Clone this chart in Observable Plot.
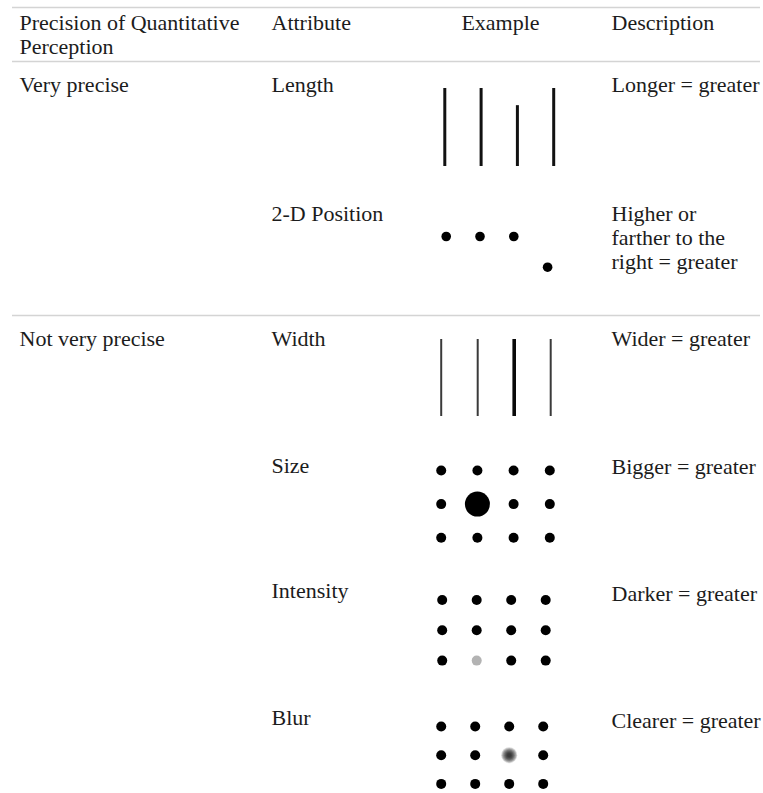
<!DOCTYPE html>
<html><head><meta charset="utf-8">
<script src="https://cdn.jsdelivr.net/npm/d3@7"></script>
<script src="https://cdn.jsdelivr.net/npm/@observablehq/plot@0.6"></script>
<style>html,body{margin:0;padding:0;background:#fff}</style>
</head><body><div id="chart"></div>
<script>
// ---- data ----
const headers = ["Precision of Quantitative\nPerception", "Attribute", "Example", "Description"];
const precisionLevels = ["Very precise", "Not very precise"];
const precisionStart = [0, 2]; // attribute index where each level begins
const attributes = ["Length", "2-D Position", "Width", "Size", "Intensity", "Blur"];
const descriptions = ["Longer = greater", "Higher or\nfarther to the\nright = greater", "Wider = greater", "Bigger = greater", "Darker = greater", "Clearer = greater"];
const lengthValues = [1, 1, 0.78, 1];
const positionColumns = [0, 1, 2, 3];
const positionLevels = [1, 1, 1, 0];
const widthValues = [1, 1, 1.8, 1];
const sizeValues = [[1, 1, 1, 1], [1, 2.5, 1, 1], [1, 1, 1, 1]];
const intensityValues = [[1, 1, 1, 1], [1, 1, 1, 1], [1, 0.3, 1, 1]];
const blurValues = [[0, 0, 0, 0], [0, 0, 1, 0], [0, 0, 0, 0]];

// ---- layout ----
const W = 763, H = 793;
const FONT = "'Liberation Serif', 'Times New Roman', serif";
const FS = 22;
const INK = "#1c1c1c";
const colX = [19, 271, 500, 611];
const headerY = 22, headerLine = 24;
const attrY = [84, 213, 338, 465, 590, 717];
const descY = [84, 213, 338, 466, 593, 720];
const descLine = 24;
const ruleY = [7, 61, 315];
const L = {
  length: {x0: 444.3, dx: 36.3, bottom: 166, full: 78, sw: 3},
  position: {x0: 445.7, dx: 33.8, y0: 266.7, dy: 30.7, r: 4.8},
  width: {x0: 440.7, dx: 36.5, top: 339, bottom: 416, sw: 2},
  size: {x0: 440.7, dx: 36.2, y0: 470, dy: 33.6, r: 5},
  intensity: {x0: 441.7, dx: 34.5, y0: 599.5, dy: 30.3, r: 5},
  blur: {x0: 440.7, dx: 34, y0: 726, dy: 28.7, r: 5}
};

// ---- derived tables ----
const headerRows = headers.map((t, i) => ({
  text: t, x: colX[i], centered: i === 2,
  y: headerY + (t.split("\n").length - 1) * headerLine / 2
}));
const precisionRows = precisionLevels.map((t, i) => ({text: t, x: colX[0], y: attrY[precisionStart[i]]}));
const attributeRows = attributes.map((t, i) => ({text: t, x: colX[1], y: attrY[i]}));
const descriptionRows = descriptions.map((t, i) => ({
  text: t, x: colX[3], y: descY[i] + (t.split("\n").length - 1) * descLine / 2
}));
const lengthRows = lengthValues.map((v, i) => ({
  x: L.length.x0 + i * L.length.dx, y1: L.length.bottom - v * L.length.full, y2: L.length.bottom
}));
const positionRows = positionColumns.map((c, i) => ({
  x: L.position.x0 + c * L.position.dx, y: L.position.y0 - positionLevels[i] * L.position.dy
}));
const widthRows = widthValues.map((v, i) => ({
  x: L.width.x0 + i * L.width.dx, w: v * L.width.sw, c: v > 1 ? "#0a0a0a" : "#3a3a3a"
}));
function grid(values, b) {
  const out = [];
  values.forEach((row, r) => row.forEach((v, c) => out.push({x: b.x0 + c * b.dx, y: b.y0 + r * b.dy, v})));
  return out;
}
const sizeRows = grid(sizeValues, L.size);
const intensityRows = grid(intensityValues, L.intensity);
const blurRows = grid(blurValues, L.blur);
const sharpBlur = blurRows.filter(d => d.v === 0);
const softBlur = blurRows.filter(d => d.v > 0);
const blurRings = [1.6, 1.45, 1.3, 1.15, 1.0, 0.85, 0.7, 0.55, 0.4];

const textOpts = {fontFamily: FONT, fontSize: FS, fill: INK, lineAnchor: "middle"};

const chart = Plot.plot({
  width: W, height: H, margin: 0,
  style: {background: "#fff"},
  x: {domain: [0, W], range: [0, W], axis: null},
  y: {domain: [0, H], range: [0, H], axis: null},
  marks: [
    Plot.ruleY(ruleY, {y: d => d, x1: 12, x2: 760, stroke: "#d4d4d4", strokeWidth: 1.3}),
    Plot.text(headerRows.filter(d => !d.centered), {...textOpts, x: "x", y: "y", text: "text", textAnchor: "start", lineHeight: headerLine / FS}),
    Plot.text(headerRows.filter(d => d.centered), {...textOpts, x: "x", y: "y", text: "text", textAnchor: "middle"}),
    Plot.text(precisionRows, {...textOpts, x: "x", y: "y", text: "text", textAnchor: "start"}),
    Plot.text(attributeRows, {...textOpts, x: "x", y: "y", text: "text", textAnchor: "start"}),
    Plot.text(descriptionRows, {...textOpts, x: "x", y: "y", text: "text", textAnchor: "start", lineHeight: descLine / FS}),
    Plot.ruleX(lengthRows, {x: "x", y1: "y1", y2: "y2", stroke: "#111", strokeWidth: L.length.sw}),
    Plot.dot(positionRows, {x: "x", y: "y", r: L.position.r, fill: "#000", stroke: null}),
    Plot.ruleX(widthRows, {x: "x", y1: L.width.top, y2: L.width.bottom, stroke: "c", strokeWidth: "w"}),
    Plot.dot(sizeRows.filter(d => d.v === 1), {x: "x", y: "y", r: L.size.r, fill: "#000"}),
    Plot.dot(sizeRows.filter(d => d.v !== 1), {x: "x", y: "y", r: L.size.r * 2.5, fill: "#000"}),
    Plot.dot(intensityRows, {x: "x", y: "y", r: L.intensity.r, fill: d => d3.interpolateRgb("#ffffff", "#000000")(d.v)}),
    Plot.dot(sharpBlur, {x: "x", y: "y", r: L.blur.r, fill: "#000"}),
    ...blurRings.map(k => Plot.dot(softBlur, {x: "x", y: "y", r: k * L.blur.r, fill: "#000", fillOpacity: 0.15}))
  ]
});
document.getElementById("chart").appendChild(chart);
</script>
</body></html>
